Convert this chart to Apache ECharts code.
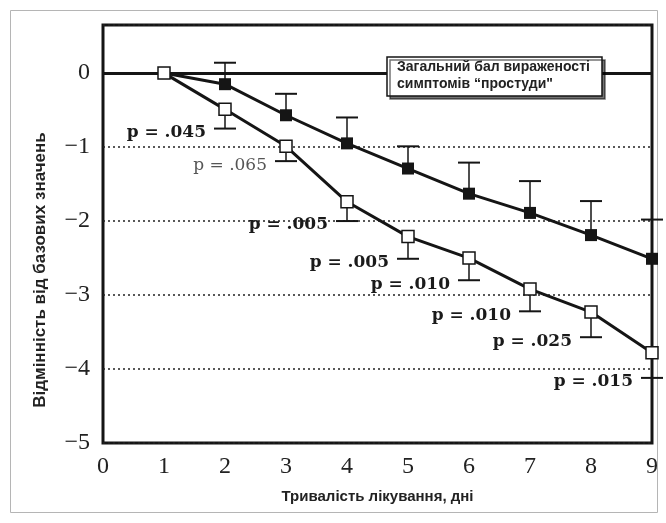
<!DOCTYPE html>
<html><head><meta charset="utf-8">
<script src="https://cdn.jsdelivr.net/npm/echarts@6/dist/echarts.min.js"></script>
<style>html,body{margin:0;padding:0;background:#fff}#c{width:666px;height:523px}</style>
</head><body><div id="c"></div>
<script>
// ---- data ----
const days = [1, 2, 3, 4, 5, 6, 7, 8, 9];
const xTicks = [0, 1, 2, 3, 4, 5, 6, 7, 8, 9];
const yTicks = [0, -1, -2, -3, -4, -5];
const placeboMean = [0, -0.15, -0.57, -0.95, -1.29, -1.63, -1.89, -2.19, -2.51];
const placeboErrTop = [null, 0.14, -0.28, -0.60, -0.99, -1.21, -1.46, -1.73, -1.98];
const treatedMean = [0, -0.49, -0.99, -1.74, -2.21, -2.50, -2.92, -3.23, -3.78];
const treatedErrBottom = [null, -0.75, -1.19, -2.00, -2.51, -2.80, -3.22, -3.57, -4.12];
const pValues = [null, 0.045, 0.065, 0.005, 0.005, 0.010, 0.010, 0.025, 0.015];
const legendLines = ['Загальний бал вираженості', 'симптомів “простуди"'];
const xName = 'Тривалість лікування, дні';
const yName = 'Відмінність від базових значень';

const INK = '#151515';

function errSeries(mean, err, withP) {
  const data = [];
  days.forEach((d, i) => {
    if (err[i] != null) data.push([d, mean[i], err[i], withP ? pValues[i] : -1]);
  });
  return {
    type: 'custom', clip: false, z: 3, silent: true,
    data: data,
    renderItem: function (params, api) {
      const p0 = api.coord([api.value(0), api.value(1)]);
      const p1 = api.coord([api.value(0), api.value(2)]);
      const children = [
        { type: 'line', shape: { x1: p0[0], y1: p0[1], x2: p1[0], y2: p1[1] }, style: { stroke: INK, lineWidth: 1.5 } },
        { type: 'line', shape: { x1: p1[0] - 11, y1: p1[1], x2: p1[0] + 11, y2: p1[1] }, style: { stroke: INK, lineWidth: 2 } }
      ];
      const pv = api.value(3);
      if (withP && pv > 0) {
        const sig = pv < 0.05;
        children.push({
          type: 'text', x: p1[0] - 19, y: p1[1] + 4,
          style: {
            text: 'p = ' + pv.toFixed(3).replace(/^0/, ''),
            align: 'right', verticalAlign: 'middle',
            font: (sig ? 'bold ' : '') + '17px "DejaVu Serif", serif',
            fill: sig ? '#1a1a1a' : '#555'
          }
        });
      }
      return { type: 'group', children: children };
    }
  };
}

const chart = echarts.init(document.getElementById('c'), null, { renderer: 'canvas' });
chart.setOption({
  animation: false,
  backgroundColor: '#fff',
  grid: { left: 103, right: 14, top: 25, bottom: 80, show: true, borderColor: INK, borderWidth: 3, backgroundColor: 'transparent' },
  title: {
    text: legendLines.join('\n'), left: 387, top: 57,
    padding: [2, 12, 3, 10],
    backgroundColor: '#fff', borderColor: INK, borderWidth: 1.5,
    shadowColor: 'rgba(0,0,0,0.55)', shadowOffsetX: 3, shadowOffsetY: 3, shadowBlur: 0,
    textStyle: { fontFamily: '"Liberation Sans", Arial, sans-serif', fontWeight: 'bold', fontSize: 14, lineHeight: 17, color: '#222' },
    z: 20
  },
  xAxis: {
    type: 'value', min: 0, max: 9, interval: 1,
    axisLine: { show: false }, axisTick: { show: false }, splitLine: { show: false },
    axisLabel: { margin: 12, fontFamily: '"Liberation Serif", serif', fontSize: 24, color: '#222',
      formatter: v => xTicks.includes(v) ? String(v) : '' },
    name: xName, nameLocation: 'middle', nameGap: 46,
    nameTextStyle: { fontFamily: '"Liberation Sans", Arial, sans-serif', fontWeight: 'bold', fontSize: 15, color: '#222' }
  },
  yAxis: {
    type: 'value', min: -5, max: 0.65, interval: 1,
    axisLine: { show: false }, axisTick: { show: false },
    splitLine: { show: true, lineStyle: { type: [2, 3], color: '#222', width: 1.5 } },
    axisLabel: { margin: 13, fontFamily: '"Liberation Serif", serif', fontSize: 24, color: '#222',
      formatter: v => yTicks.includes(v) ? (v < 0 ? '\u2212' + (-v) : String(v)) : '' }
  },
  graphic: [
    { type: 'rect', shape: { x: 10.5, y: 10.5, width: 647, height: 502 }, style: { fill: 'none', stroke: '#b5b5b5', lineWidth: 1 }, z: -1 },
    { type: 'text', x: 40, y: 270, rotation: Math.PI / 2,
      style: { text: yName, align: 'center', verticalAlign: 'middle', font: 'bold 17px "Liberation Sans", Arial, sans-serif', fill: '#222' } }
  ],
  series: [
    errSeries(placeboMean, placeboErrTop, false),
    errSeries(treatedMean, treatedErrBottom, true),
    {
      type: 'line', clip: false, z: 4, silent: true,
      data: days.map((d, i) => [d, placeboMean[i]]),
      symbol: 'rect', symbolSize: 12,
      lineStyle: { color: INK, width: 3 },
      itemStyle: { color: INK },
      markLine: { symbol: 'none', silent: true, label: { show: false },
        lineStyle: { type: 'solid', color: INK, width: 3 }, data: [{ yAxis: 0 }] }
    },
    {
      type: 'line', clip: false, z: 5, silent: true,
      data: days.map((d, i) => [d, treatedMean[i]]),
      symbol: 'rect', symbolSize: 12,
      lineStyle: { color: INK, width: 3 },
      itemStyle: { color: '#fff', borderColor: INK, borderWidth: 1.5 }
    }
  ]
});
</script>
</body></html>
